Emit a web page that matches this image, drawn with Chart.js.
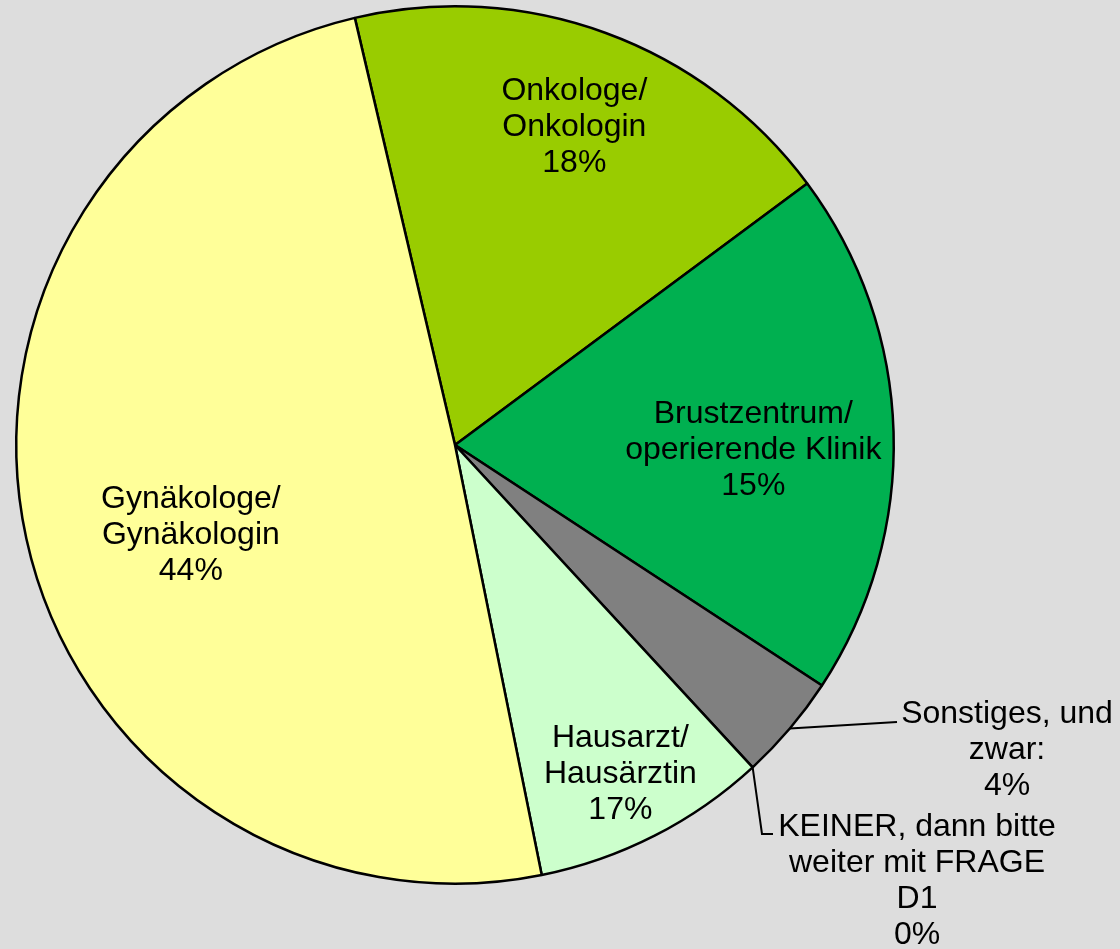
<!DOCTYPE html>
<html lang="de">
<head>
    <meta charset="UTF-8">
    <title>Ansprechpartner</title>
    <script src="https://cdn.jsdelivr.net/npm/chart.js"></script>
    <style>
        body {
            margin: 0;
            padding: 0;
            background-color: #dddddd;
        }

        .chart-container {
            width: 1120px;
            height: 949px;
        }
    </style>
</head>
<body>

    <div class="chart-container">
        <canvas id="pieChart"></canvas>
    </div>

    <script>
        const categories = [
            ['Onkologe/', 'Onkologin'],
            ['Brustzentrum/', 'operierende Klinik'],
            ['Sonstiges, und', 'zwar:'],
            ['KEINER, dann bitte', 'weiter mit FRAGE', 'D1'],
            ['Hausarzt/', 'Hausärztin'],
            ['Gynäkologe/', 'Gynäkologin']
        ];
        const sliceValues = [18.5, 19.4, 3.9, 0, 8.7, 49.5];
        const percentLabels = ['18%', '15%', '4%', '0%', '17%', '44%'];
        const sliceColors = ['#99cc00', '#00b050', '#808080', '#ffffff', '#ccffcc', '#ffff99'];

        // Label placement (style only)
        const labelPlacement = [
            { inside: true, r: 0.773, turn: 0.5 },
            { inside: true, r: 0.68, turn: 2.6 },
            { inside: false, leader: [[442, 277]], textX: 552, textY: 269 },
            { inside: false, leader: [[307, 389], [318, 389]], textX: 462, textY: 382 },
            { inside: true, r: 0.84, turn: 0.4 },
            { inside: true, r: 0.636, turn: -6.5 }
        ];

        const FONT = '32px "Liberation Sans", Arial, sans-serif';
        const LINE_HEIGHT = 36;

        // Plugin to draw the slice labels and leader lines
        const sliceLabels = {
            id: 'sliceLabels',
            afterDatasetsDraw(chart) {
                const ctx = chart.ctx;
                const meta = chart.getDatasetMeta(0);
                ctx.save();
                ctx.font = FONT;
                ctx.fillStyle = '#000000';
                ctx.strokeStyle = '#000000';
                ctx.lineWidth = 2;
                ctx.textAlign = 'center';
                ctx.textBaseline = 'middle';

                meta.data.forEach((arc, i) => {
                    const p = labelPlacement[i];
                    const lines = [...categories[i], percentLabels[i]];
                    const mid = (arc.startAngle + arc.endAngle) / 2;
                    let x, y0;

                    if (p.inside) {
                        const a = mid + p.turn * Math.PI / 180;
                        x = arc.x + Math.cos(a) * arc.outerRadius * p.r;
                        const yc = arc.y + Math.sin(a) * arc.outerRadius * p.r;
                        y0 = yc - (lines.length - 1) * LINE_HEIGHT / 2;
                    } else {
                        // leader line from the edge of the slice
                        ctx.beginPath();
                        ctx.moveTo(arc.x + Math.cos(mid) * arc.outerRadius,
                                   arc.y + Math.sin(mid) * arc.outerRadius);
                        p.leader.forEach(pt => ctx.lineTo(arc.x + pt[0], arc.y + pt[1]));
                        ctx.stroke();
                        x = arc.x + p.textX;
                        y0 = arc.y + p.textY;
                    }

                    lines.forEach((line, k) => {
                        ctx.fillText(line, x, y0 + k * LINE_HEIGHT);
                    });
                });
                ctx.restore();
            }
        };

        const ctx = document.getElementById('pieChart').getContext('2d');
        new Chart(ctx, {
            type: 'pie',
            data: {
                labels: categories.map(c => c.join(' ')),
                datasets: [{
                    data: sliceValues,
                    backgroundColor: sliceColors,
                    borderColor: '#000000',
                    borderWidth: 2.5
                }]
            },
            options: {
                responsive: true,
                maintainAspectRatio: false,
                animation: false,
                rotation: -13.2,
                layout: {
                    padding: { left: 15, right: 225, top: 5, bottom: 64 }
                },
                plugins: {
                    legend: { display: false },
                    tooltip: { enabled: false }
                }
            },
            plugins: [sliceLabels]
        });
    </script>

</body>
</html>
